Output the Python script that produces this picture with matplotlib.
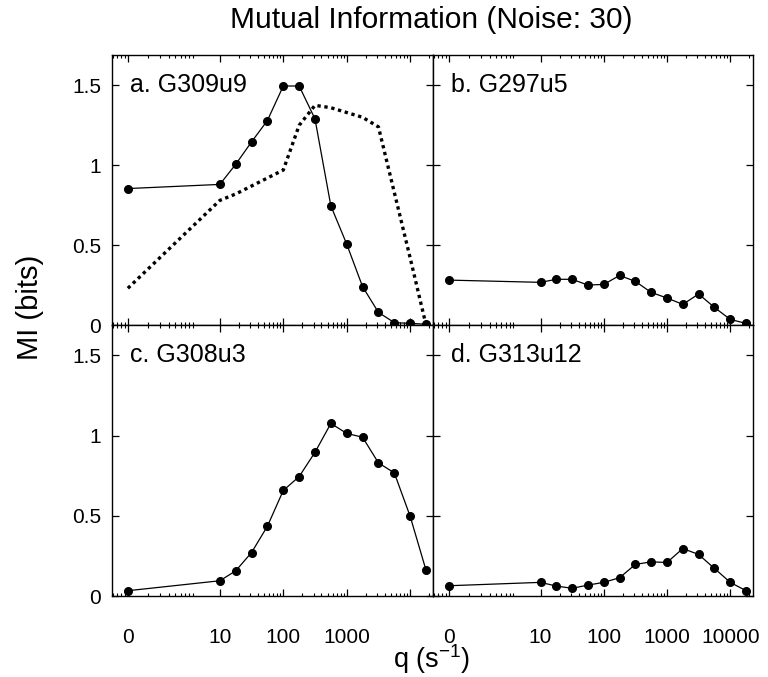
import matplotlib
matplotlib.use('Agg')
import matplotlib.pyplot as plt
import numpy as np

plt.rcParams['font.family'] = ['Liberation Sans', 'DejaVu Sans']
plt.rcParams['mathtext.default'] = 'regular'

# q values (s^-1); 0 is drawn at its own spot left of 10
q = [0, 10, 17.8, 31.6, 56.2, 100, 178, 316, 562, 1000, 1778, 3162, 5623, 10000, 17783]

mi_a = [0.854, 0.88, 1.006, 1.146, 1.28, 1.496, 1.496, 1.29, 0.746, 0.506, 0.24, 0.079, 0.015, 0.01, 0.005]
mi_a_dot = [0.23, 0.78, 0.82, 0.87, 0.92, 0.97, 1.25, 1.375, 1.36, 1.33, 1.30, 1.24, 0.83, 0.42, 0.0]
mi_b = [0.281, 0.267, 0.286, 0.286, 0.25, 0.254, 0.31, 0.273, 0.204, 0.169, 0.129, 0.194, 0.11, 0.035, 0.01]
mi_c = [0.033, 0.095, 0.157, 0.271, 0.435, 0.658, 0.745, 0.896, 1.076, 1.014, 0.99, 0.83, 0.768, 0.497, 0.161]
mi_d = [0.064, 0.085, 0.062, 0.048, 0.068, 0.085, 0.114, 0.197, 0.213, 0.209, 0.296, 0.259, 0.172, 0.085, 0.033]

titulos = ['a. G309u9', 'b. G297u5', 'c. G308u3', 'd. G313u12']

ZERO_POS = -0.45
X_MIN, X_MAX = -0.70, 4.36


def adelante(x):
    x = np.asarray(x, dtype=float)
    return np.where(x > 0, np.log10(np.maximum(x, 1e-12)), ZERO_POS)


def atras(p):
    return 10.0 ** np.asarray(p, dtype=float)


# ticks menores: decadas normales + la decada "falsa" entre 0 y 10
menores = []
for e in range(1, 5):
    for m in range(2, 10):
        menores.append(m * 10 ** e)
for m in range(2, 10):
    menores.append(10 ** (ZERO_POS + 1.07 * np.log10(m)))
    menores.append(10 ** (ZERO_POS - 1.07 * (1 - np.log10(m))))
menores = [v for v in menores if X_MIN < np.log10(v) < X_MAX]

fig = plt.figure(figsize=(7.68, 6.77), dpi=100)
W, H = 768, 677


def caja(x0, x1, y0, y1):
    return [x0 / W, 1 - y1 / H, (x1 - x0) / W, (y1 - y0) / H]


ax_a = fig.add_axes(caja(112, 433, 55, 325))
ax_b = fig.add_axes(caja(433, 753, 55, 325))
ax_c = fig.add_axes(caja(112, 433, 325, 596))
ax_d = fig.add_axes(caja(433, 753, 325, 596))

series = [(ax_a, mi_a), (ax_b, mi_b), (ax_c, mi_c), (ax_d, mi_d)]

for i, (ax, y) in enumerate(series):
    ax.set_xscale('function', functions=(adelante, atras))
    ax.plot(q, y, color='black', lw=0.9, marker='o', markersize=5.5, clip_on=False, zorder=3)
    ax.set_xticks([0, 10, 100, 1000, 10000])
    ax.set_xticks(menores, minor=True)
    ax.set_yticks([0, 0.5, 1, 1.5])
    ax.tick_params(which='both', direction='in', top=True, right=True, labelsize=15)
    ax.tick_params(which='major', length=5, width=0.9)
    ax.tick_params(which='minor', length=2.5, width=0.8)
    ax.tick_params(axis='x', pad=23)
    ax.tick_params(axis='y', pad=8)
    for s in ax.spines.values():
        s.set_linewidth(1.0)
    ax.text(0.055, 1.5, titulos[i], transform=ax.get_yaxis_transform(),
            fontsize=18, va='center', ha='left')

ax_a.plot(q, mi_a_dot, color='black', lw=2.4, linestyle=(0, (1, 1.1)), zorder=2, clip_on=False)

for ax, _ in series:
    ax.set_xlim(10 ** X_MIN, 10 ** X_MAX)
    ax.set_ylim(0, 1.69)

ax_c.set_xticklabels(['0', '10', '100', '1000', ''])
ax_d.set_xticklabels(['0', '10', '100', '1000', '10000'])
ax_c.set_yticklabels(['0', '0.5', '1', '1.5'])
ax_a.set_yticklabels(['0', '0.5', '1', '1.5'])
for ax in (ax_a, ax_b):
    ax.tick_params(axis='x', labelbottom=False)
for ax in (ax_b, ax_d):
    ax.tick_params(axis='y', labelleft=False)

fig.text(431 / W, 1 - 20 / H, 'Mutual Information (Noise: 30)', ha='center', va='center', fontsize=21.5)
fig.text(30 / W, 1 - 307 / H, 'MI (bits)', ha='center', va='center', rotation=90, fontsize=21)
fig.text(432 / W, 1 - 659 / H, 'q (s$^{-1}$)', ha='center', va='center', fontsize=19.5)

fig.savefig('out.png', dpi=100)
